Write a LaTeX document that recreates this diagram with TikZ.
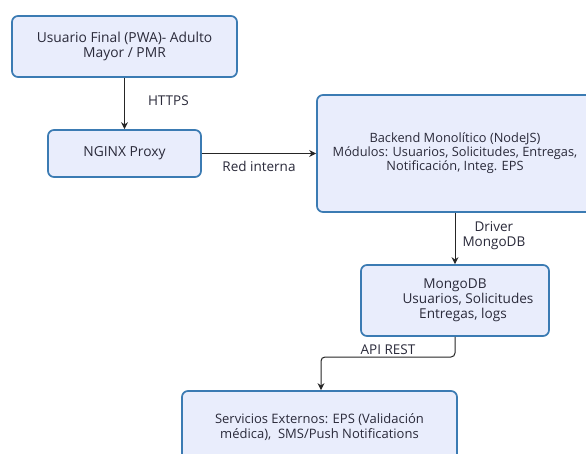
\documentclass[tikz,border=0pt]{standalone}
\usepackage{fontspec}
\setmainfont{Open Sans}
\usetikzlibrary{arrows.meta}
\definecolor{boxfill}{HTML}{E9EDFC}
\definecolor{boxline}{HTML}{3B7BB3}
\definecolor{txt}{HTML}{2A2A3A}
\tikzset{
  blk/.style={draw=boxline, line width=1.7pt, fill=boxfill, rounded corners=6pt, align=center, text=txt, font=\fontsize{13.8}{15.2}\selectfont, inner sep=0pt},
  conn/.style={draw=black!85, line width=1pt, -{Stealth[length=7pt,width=7pt]}},
  lbl/.style={text=txt, font=\fontsize{13.5}{15}\selectfont, align=center, inner sep=0pt}
}
\begin{document}
\begin{tikzpicture}[x=1pt,y=-1pt]
\useasboundingbox (0,0) rectangle (586,454);
\clip (0,0) rectangle (586,454);
\fill[white] (0,0) rectangle (586,454);
\node[blk, minimum width=225pt, minimum height=61pt] (user) at (124.5,46.5) {Usuario Final (PWA)- Adulto\\Mayor / PMR};
\node[blk, minimum width=153pt, minimum height=47pt] (nginx) at (124.5,153.5) {NGINX Proxy};
\node[blk, minimum width=276pt, minimum height=117pt, font=\fontsize{12.8}{14}\selectfont] (back) at (455,153.5) {Backend Monolítico (NodeJS)\\Módulos: Usuarios, Solicitudes, Entregas,\\Notificación, Integ. EPS};
\node[blk, minimum width=188pt, minimum height=71pt, font=\fontsize{13.6}{15}\selectfont] (mongo) at (455,300.5) {MongoDB\\\hspace*{26pt}Usuarios, Solicitudes\\\hspace*{16pt}Entregas, logs};
\node[blk, minimum width=275pt, minimum height=72pt, font=\fontsize{13}{15}\selectfont] (ext) at (319.5,427) {Servicios Externos: EPS (Validación\\médica),\ \ SMS/Push Notifications};
\coordinate (k1) at (455,357);
\coordinate (k2) at (321,357);
\draw[conn] (user.south) -- (nginx.north) node[lbl, pos=0.45, right=23pt] (l1) {HTTPS};
\draw[conn] (nginx.east) -- (back.west) node[lbl, pos=0.5, below=7pt] (l2) {Red interna};
\draw[conn] (back.south) -- (mongo.north) node[lbl, pos=0.45, right=7pt] (l3) {Driver\\MongoDB};
\draw[conn, rounded corners=4pt] (mongo.south) -- (k1) -- (k2) -- (ext.north -| k2);
\node[lbl] (l4) at (388,350) {API REST};
\end{tikzpicture}
\end{document}
